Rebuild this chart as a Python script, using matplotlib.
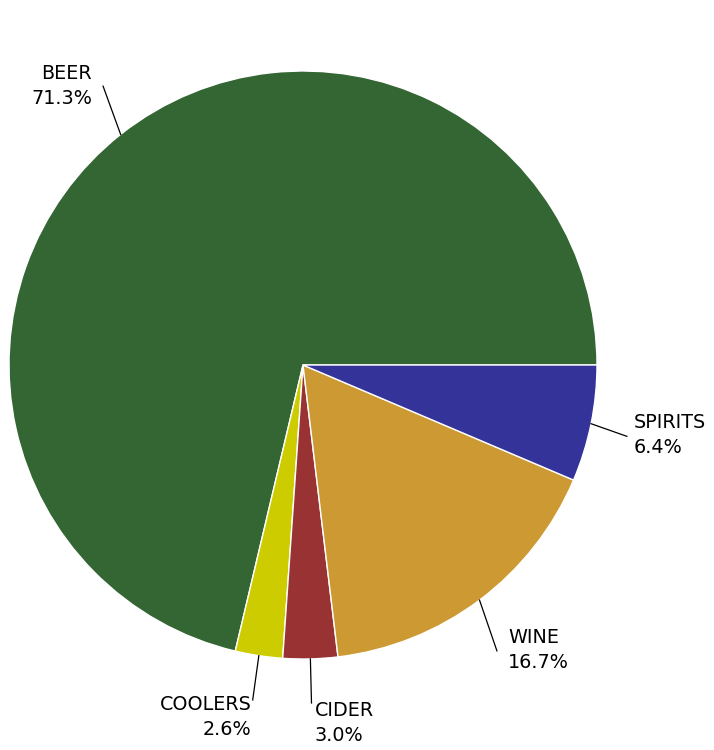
import numpy as np
import matplotlib.pyplot as plt

# alcohol sales share by category
categories = ["BEER", "COOLERS", "CIDER", "WINE", "SPIRITS"]
shares = [71.3, 2.6, 3.0, 16.7, 6.4]
colors = ["#336633", "#cccc00", "#993333", "#cc9933", "#333399"]

# label leader layout: (angle shift deg, end radius, ha, va, dx px, dy px)
label_layout = {
    "BEER":    (-2.7, 1.167, "right", "center", -11, 0),
    "COOLERS": (0.1, 1.152, "right", "top", -1, 5),
    "CIDER":   (0.0, 1.150, "left", "top", 3, 2),
    "WINE":    (-2.75, 1.175, "left", "center", 11, 1),
    "SPIRITS": (-0.9, 1.128, "left", "center", 7, 1),
}

R_PX = 294.0  # pie radius in pixels
W, H = 714, 750
CX, CY = 303, 365

fig = plt.figure(figsize=(W / 100, H / 100), dpi=100)
ax = fig.add_axes([0, 0, 1, 1])

wedges, _ = ax.pie(shares, colors=colors, startangle=0, counterclock=True,
                   radius=1.0, center=(0, 0), frame=True,
                   wedgeprops=dict(edgecolor="white", linewidth=1.0))
ax.set_xlim(-CX / R_PX, (W - CX) / R_PX)
ax.set_ylim((CY - H) / R_PX, CY / R_PX)
ax.set_aspect("auto")
ax.axis("off")

for w, name, val in zip(wedges, categories, shares):
    shift, rad, ha, va, dx, dy = label_layout[name]
    mid = np.deg2rad((w.theta1 + w.theta2) / 2)
    x0, y0 = np.cos(mid), np.sin(mid)
    ang = mid + np.deg2rad(shift)
    x1, y1 = rad * np.cos(ang), rad * np.sin(ang)
    ax.plot([x0, x1], [y0, y1], color="black", linewidth=0.9)
    ax.text(x1 + dx / R_PX, y1 + dy / R_PX, f"{name}\n{val:.1f}%",
            ha=ha, va=va, multialignment=ha, fontsize=13.8,
            family="DejaVu Sans", linespacing=1.4)

fig.savefig("out.png", dpi=100, facecolor="white")
